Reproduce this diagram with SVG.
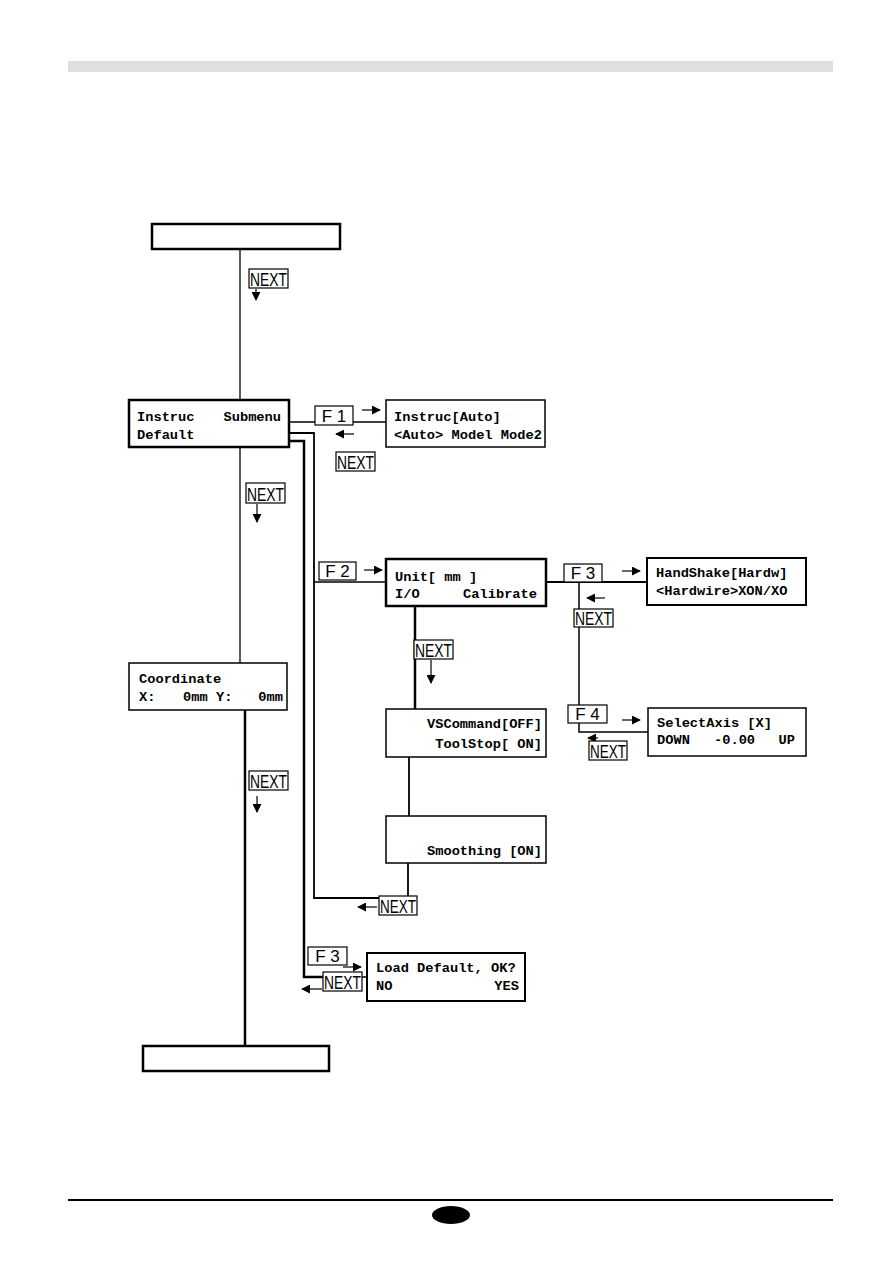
<svg xmlns="http://www.w3.org/2000/svg" width="893" height="1263" viewBox="0 0 893 1263">
<defs>
<marker id="ah" viewBox="0 0 10 10" refX="9" refY="5" markerWidth="9" markerHeight="9" markerUnits="userSpaceOnUse" orient="auto"><path d="M0,0 L10,5 L0,10 z" fill="#000"/></marker>
<style>
.box{fill:#fff;stroke:#000}
.lcd{font-family:"Liberation Mono","Courier New",monospace;font-weight:bold;font-size:13.7px;fill:#000}
.key{fill:#fff;stroke:#000;stroke-width:1.2}
.kt{font-family:"Liberation Sans",Arial,sans-serif;font-size:19px;fill:#000}
.ft{font-family:"Liberation Sans",Arial,sans-serif;font-size:17px;fill:#000}
.c{fill:none;stroke:#000}
.ar{stroke:#000;stroke-width:1.2;fill:none;marker-end:url(#ah)}
</style>
</defs>
<rect x="68" y="61" width="765" height="11" fill="#dfdfdf"/>
<g id="connectors">
<line class="c" x1="240" y1="249" x2="240" y2="400" stroke-width="1.3"/>
<line class="c" x1="240" y1="447" x2="240" y2="663" stroke-width="1.3"/>
<line class="c" x1="245" y1="710" x2="245" y2="1046" stroke-width="2.5"/>
<line class="c" x1="289" y1="422" x2="386" y2="422" stroke-width="1.3"/>
<polyline class="c" points="289,433 314,433 314,898 379,898" stroke-width="1.8"/>
<polyline class="c" points="289,441 304,441 304,977 323,977" stroke-width="2.5"/>
<line class="c" x1="362" y1="977" x2="367" y2="977" stroke-width="1.5"/>
<line class="c" x1="314" y1="582" x2="386" y2="582" stroke-width="1.5"/>
<line class="c" x1="415" y1="606" x2="415" y2="709" stroke-width="2.5"/>
<line class="c" x1="409" y1="757" x2="409" y2="816" stroke-width="1.8"/>
<line class="c" x1="408" y1="863" x2="408" y2="896" stroke-width="1.8"/>
<line class="c" x1="546" y1="582" x2="647" y2="582" stroke-width="2"/>
<polyline class="c" points="579,582 579,732 648,732" stroke-width="1.5"/>
<line class="ar" x1="256" y1="289" x2="256" y2="300"/>
<line class="ar" x1="257" y1="504" x2="257" y2="522"/>
<line class="ar" x1="257" y1="796" x2="257" y2="812"/>
<line class="ar" x1="362" y1="410" x2="380" y2="410"/>
<line class="ar" x1="354" y1="434" x2="336" y2="434"/>
<line class="ar" x1="364" y1="570" x2="382" y2="570"/>
<line class="ar" x1="431" y1="660" x2="431" y2="683"/>
<line class="ar" x1="622" y1="571" x2="640" y2="571"/>
<line class="ar" x1="605" y1="598" x2="587" y2="598"/>
<line class="ar" x1="622" y1="720" x2="640" y2="720"/>
<line class="ar" x1="598" y1="738" x2="588" y2="738"/>
<line class="ar" x1="377" y1="907" x2="358" y2="907"/>
<line class="ar" x1="343" y1="967" x2="361" y2="967"/>
<line class="ar" x1="322" y1="989" x2="302" y2="989"/>
</g>
<g id="keys">
<rect class="key" x="249" y="269" width="39" height="19"/><text class="kt" x="268.5" y="286" text-anchor="middle" textLength="37" lengthAdjust="spacingAndGlyphs">NEXT</text>
<rect class="key" x="246" y="483" width="39" height="20"/><text class="kt" x="265.5" y="501" text-anchor="middle" textLength="37" lengthAdjust="spacingAndGlyphs">NEXT</text>
<rect class="key" x="249" y="771" width="39" height="19"/><text class="kt" x="268.5" y="788" text-anchor="middle" textLength="37" lengthAdjust="spacingAndGlyphs">NEXT</text>
<rect class="key" x="315" y="406" width="38" height="19"/><text class="ft" x="334" y="422" text-anchor="middle">F 1</text>
<rect class="key" x="336" y="452" width="39" height="19"/><text class="kt" x="355.5" y="469" text-anchor="middle" textLength="37" lengthAdjust="spacingAndGlyphs">NEXT</text>
<rect class="key" x="319" y="562" width="37" height="18"/><text class="ft" x="337.5" y="577" text-anchor="middle">F 2</text>
<rect class="key" x="414" y="640" width="39" height="19"/><text class="kt" x="433.5" y="657" text-anchor="middle" textLength="37" lengthAdjust="spacingAndGlyphs">NEXT</text>
<rect class="key" x="564" y="564" width="38" height="18"/><text class="ft" x="583" y="579" text-anchor="middle">F 3</text>
<rect class="key" x="574" y="609" width="39" height="18"/><text class="kt" x="593.5" y="625" text-anchor="middle" textLength="37" lengthAdjust="spacingAndGlyphs">NEXT</text>
<rect class="key" x="568" y="705" width="39" height="18"/><text class="ft" x="587.5" y="720" text-anchor="middle">F 4</text>
<rect class="key" x="589" y="741" width="38" height="19"/><text class="kt" x="608" y="758" text-anchor="middle" textLength="36" lengthAdjust="spacingAndGlyphs">NEXT</text>
<rect class="key" x="379" y="896" width="38" height="19"/><text class="kt" x="398" y="913" text-anchor="middle" textLength="36" lengthAdjust="spacingAndGlyphs">NEXT</text>
<rect class="key" x="308" y="947" width="39" height="18"/><text class="ft" x="327.5" y="962" text-anchor="middle">F 3</text>
<rect class="key" x="323" y="972" width="39" height="19"/><text class="kt" x="342.5" y="989" text-anchor="middle" textLength="37" lengthAdjust="spacingAndGlyphs">NEXT</text>
</g>
<g id="node-top"><rect class="box" x="152" y="224" width="188" height="25" stroke-width="2.5"/></g>
<g id="node-instruc">
<rect class="box" x="129" y="400" width="160" height="47" stroke-width="2.5"/>
<text class="lcd" x="137" y="421">Instruc</text><text class="lcd" x="281" y="421" text-anchor="end">Submenu</text>
<text class="lcd" x="137" y="439">Default</text>
</g>
<g id="node-instruc-auto">
<rect class="box" x="386" y="400" width="159" height="47" stroke-width="1.5"/>
<text class="lcd" x="394" y="421">Instruc[Auto]</text>
<text class="lcd" x="394" y="439" xml:space="preserve">&lt;Auto&gt; Model Mode2</text>
</g>
<g id="node-unit">
<rect class="box" x="386" y="559" width="160" height="47" stroke-width="2.5"/>
<text class="lcd" x="395" y="581" xml:space="preserve">Unit[ mm ]</text>
<text class="lcd" x="395" y="598">I/O</text><text class="lcd" x="537" y="598" text-anchor="end">Calibrate</text>
</g>
<g id="node-handshake">
<rect class="box" x="647" y="558" width="159" height="47" stroke-width="2"/>
<text class="lcd" x="656" y="577">HandShake[Hardw]</text>
<text class="lcd" x="656" y="595">&lt;Hardwire&gt;XON/XO</text>
</g>
<g id="node-selectaxis">
<rect class="box" x="648" y="708" width="158" height="48" stroke-width="1.5"/>
<text class="lcd" x="657" y="727">SelectAxis [X]</text>
<text class="lcd" x="657" y="744">DOWN</text><text class="lcd" x="714" y="744">-0.00</text><text class="lcd" x="795" y="744" text-anchor="end">UP</text>
</g>
<g id="node-coordinate">
<rect class="box" x="129" y="663" width="158" height="47" stroke-width="1.5"/>
<text class="lcd" x="139" y="683">Coordinate</text>
<text class="lcd" x="139" y="701">X:</text><text class="lcd" x="183" y="701">0mm</text><text class="lcd" x="216" y="701">Y:</text><text class="lcd" x="283" y="701" text-anchor="end">0mm</text>
</g>
<g id="node-vscommand">
<rect class="box" x="386" y="709" width="160" height="48" stroke-width="1.5"/>
<text class="lcd" x="542" y="728" text-anchor="end">VSCommand[OFF]</text>
<text class="lcd" x="542" y="748" text-anchor="end" xml:space="preserve">ToolStop[ ON]</text>
</g>
<g id="node-smoothing">
<rect class="box" x="386" y="816" width="160" height="47" stroke-width="1.5"/>
<text class="lcd" x="542" y="855" text-anchor="end">Smoothing [ON]</text>
</g>
<g id="node-loaddefault">
<rect class="box" x="367" y="953" width="158" height="48" stroke-width="2"/>
<text class="lcd" x="376" y="972">Load Default, OK?</text>
<text class="lcd" x="376" y="990">NO</text><text class="lcd" x="519" y="990" text-anchor="end">YES</text>
</g>
<g id="node-bottom"><rect class="box" x="143" y="1046" width="186" height="25" stroke-width="2.5"/></g>
<line x1="68" y1="1200" x2="833" y2="1200" stroke="#000" stroke-width="2"/>
<ellipse cx="451" cy="1215" rx="19" ry="9" fill="#000"/>
</svg>
